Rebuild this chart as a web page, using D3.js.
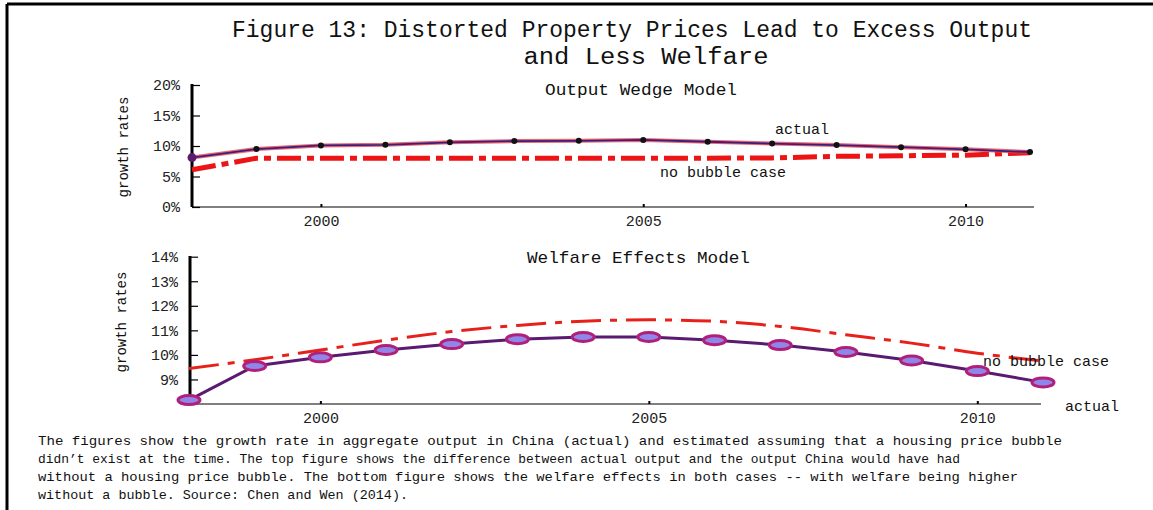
<!DOCTYPE html>
<html lang="en">
<head>
  <meta charset="UTF-8">
  <title>Figure 13</title>
  <script src="https://d3js.org/d3.v7.min.js"></script>
  <style>
      body { margin: 0; background: #fff; }
      text { font-family: "Liberation Mono", "Courier New", monospace; fill: #111; }
      .axis path, .axis line { stroke: #000; }
      .axis text { font-size: 15px; font-family: "Liberation Mono", monospace; fill: #222; }
  </style>
</head>
<body>
<svg width="1153" height="510"></svg>
<script>
  // values
  const years = [1998, 1999, 2000, 2001, 2002, 2003, 2004, 2005, 2006, 2007, 2008, 2009, 2010, 2011];
  const outputActual = [8.1, 9.5, 10.1, 10.2, 10.6, 10.8, 10.85, 11.0, 10.7, 10.4, 10.15, 9.8, 9.45, 9.0];
  const outputNoBubble = [6.1, 8.0, 8.0, 8.0, 8.0, 8.0, 8.0, 8.0, 8.0, 8.05, 8.3, 8.4, 8.5, 8.9];
  const welfareActual = [8.16, 9.55, 9.9, 10.2, 10.44, 10.64, 10.73, 10.73, 10.6, 10.4, 10.12, 9.77, 9.34, 8.88];
  const welfareNoBubble = [9.45, 9.8, 10.2, 10.6, 10.95, 11.2, 11.37, 11.43, 11.37, 11.16, 10.82, 10.48, 10.07, 9.75];
  const yearTicks = [2000, 2005, 2010];
  const outputTicks = [0, 5, 10, 15, 20];
  const welfareTicks = [9, 10, 11, 12, 13, 14];

  const caption = [
    "The figures show the growth rate in aggregate output in China (actual) and estimated assuming that a housing price bubble",
    "didn\u2019t exist at the time. The top figure shows the difference between actual output and the output China would have had",
    "without a housing price bubble. The bottom figure shows the welfare effects in both cases -- with welfare being higher",
    "without a bubble. Source: Chen and Wen (2014)."
  ];
  const captionWidths = [1024, 922, 980, 370];

  const svg = d3.select("svg");

  // frame
  svg.append("line").attr("x1", 7).attr("y1", 4).attr("x2", 1153).attr("y2", 4)
    .attr("stroke", "#000").attr("stroke-width", 3);
  svg.append("line").attr("x1", 7).attr("y1", 4).attr("x2", 7).attr("y2", 510)
    .attr("stroke", "#000").attr("stroke-width", 3);

  // title
  svg.append("text").attr("x", 632).attr("y", 37).attr("text-anchor", "middle")
    .attr("font-size", 23).attr("textLength", 800).attr("lengthAdjust", "spacingAndGlyphs")
    .text("Figure 13: Distorted Property Prices Lead to Excess Output");
  svg.append("text").attr("x", 646).attr("y", 64).attr("text-anchor", "middle")
    .attr("font-size", 23).attr("textLength", 245).attr("lengthAdjust", "spacingAndGlyphs")
    .text("and Less Welfare");

  function panel(opt) {
    const x = d3.scaleLinear().domain([1998, 2011]).range(opt.xRange);
    const y = d3.scaleLinear().domain(opt.yDomain).range(opt.yRange);
    const g = svg.append("g");

    // x axis
    g.append("line").attr("x1", x(1998)).attr("x2", opt.axisEnd)
      .attr("y1", y.range()[0]).attr("y2", y.range()[0])
      .attr("stroke", "#000").attr("stroke-width", 1.2);
    const xa = g.append("g").attr("class", "axis")
      .attr("transform", `translate(0,${y.range()[0]})`)
      .call(d3.axisBottom(x).tickValues(yearTicks).tickFormat(d3.format("d")).tickSize(-3).tickPadding(8));
    xa.select(".domain").remove();
    xa.selectAll(".tick line").attr("stroke-width", 2);

    // y axis
    const ya = g.append("g").attr("class", "axis")
      .attr("transform", `translate(${opt.yAxisX},0)`)
      .call(d3.axisLeft(y).tickValues(opt.yTicks).tickFormat(d => d + "%").tickSize(-8).tickPadding(12).tickSizeOuter(0));
    ya.select(".domain").attr("stroke-width", 3).attr("d", `M0,${opt.yTop}V${y.range()[0]}`);
    ya.selectAll(".tick line").attr("stroke-width", 1.2);

    g.append("text")
      .attr("transform", `translate(${opt.labelX},${opt.labelY}) rotate(-90)`)
      .attr("text-anchor", "middle").attr("font-size", 14).attr("fill", "#333")
      .text("growth rates");

    g.append("text").attr("x", opt.titleX).attr("y", opt.titleY)
      .attr("font-size", 17).attr("textLength", opt.titleW).attr("lengthAdjust", "spacingAndGlyphs")
      .text(opt.title);

    return {x, y, g};
  }

  // ---- top panel: output wedge
  const upper = panel({
    xRange: [192, 1030], yDomain: [0, 20], yRange: [207, 85], axisEnd: 1034,
    yAxisX: 192, yTop: 84, yTicks: outputTicks, labelX: 128, labelY: 147,
    title: "Output Wedge Model", titleX: 545, titleY: 95, titleW: 192
  });
  const upperLine = d3.line().x((d, i) => upper.x(years[i])).y(d => upper.y(d));
  upper.g.append("path").datum(outputNoBubble).attr("d", upperLine)
    .attr("fill", "none").attr("stroke", "#ec1414").attr("stroke-width", 5)
    .attr("stroke-dasharray", "24,6,7,6");
  upper.g.append("path").datum(outputActual).attr("d", upperLine)
    .attr("fill", "none").attr("stroke", "#e8404a").attr("stroke-width", 4).attr("opacity", 0.8);
  upper.g.append("path").datum(outputActual).attr("d", upperLine)
    .attr("fill", "none").attr("stroke", "#3a1f7c").attr("stroke-width", 1.8);
  upper.g.selectAll(".dot").data(outputActual).enter().append("circle")
    .attr("cx", (d, i) => upper.x(years[i])).attr("cy", d => upper.y(d))
    .attr("r", (d, i) => i === 0 ? 4.5 : 3).attr("fill", (d, i) => i === 0 ? "#5a1a6e" : "#111");
  upper.g.append("text").attr("x", 775).attr("y", 134).attr("font-size", 15).text("actual");
  upper.g.append("text").attr("x", 660).attr("y", 177).attr("font-size", 15).text("no bubble case");

  // ---- bottom panel: welfare effects
  const lower = panel({
    xRange: [189, 1043], yDomain: [8, 14], yRange: [404, 256.7], axisEnd: 1041,
    yAxisX: 190, yTop: 256, yTicks: welfareTicks, labelX: 126, labelY: 322,
    title: "Welfare Effects Model", titleX: 527, titleY: 263, titleW: 223
  });
  const nbLine = d3.line().x((d, i) => lower.x(years[i])).y(d => lower.y(d)).curve(d3.curveMonotoneX);
  const lowerLine = d3.line().x((d, i) => lower.x(years[i])).y(d => lower.y(d));
  lower.g.append("path").datum(welfareNoBubble).attr("d", nbLine)
    .attr("fill", "none").attr("stroke", "#e8201a").attr("stroke-width", 3)
    .attr("stroke-dasharray", "30,9,7,9");
  lower.g.append("path").datum(welfareActual).attr("d", lowerLine)
    .attr("fill", "none").attr("stroke", "#5a1a72").attr("stroke-width", 3);
  lower.g.selectAll(".mark").data(welfareActual).enter().append("ellipse")
    .attr("cx", (d, i) => lower.x(years[i])).attr("cy", d => lower.y(d))
    .attr("rx", 11).attr("ry", 4.5)
    .attr("fill", "#8f86e8").attr("stroke", "#b0207a").attr("stroke-width", 3);
  lower.g.append("text").attr("x", 983).attr("y", 366).attr("font-size", 15).text("no bubble case");
  lower.g.append("text").attr("x", 1065).attr("y", 411).attr("font-size", 15).text("actual");

  // caption
  svg.append("g").selectAll("text").data(caption).enter().append("text")
    .attr("x", 38).attr("y", (d, i) => 445 + i * 18)
    .attr("font-size", 13)
    .attr("textLength", (d, i) => captionWidths[i]).attr("lengthAdjust", "spacingAndGlyphs")
    .text(d => d);
</script>
</body>
</html>
